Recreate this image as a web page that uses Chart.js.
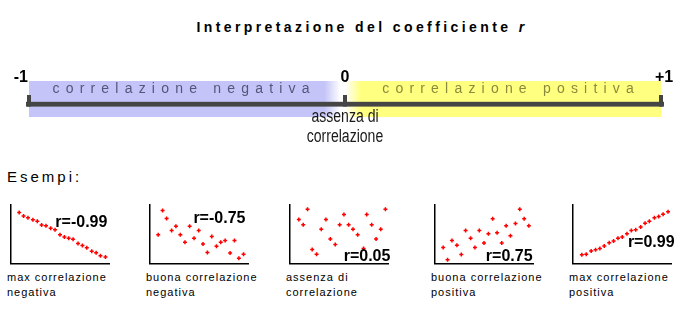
<!DOCTYPE html>
<html>
<head>
<meta charset="utf-8">
<script src="https://cdn.jsdelivr.net/npm/chart.js"></script>
<style>
  body { margin: 0; background: #fff; font-family: Arial, "Liberation Sans", sans-serif; }
  #wrap { position: relative; width: 693px; height: 323px; overflow: hidden; }
  .abs { position: absolute; }
  #title { left: 0; top: 20px; width: 724px; text-align: center; font-weight: bold; font-size: 14px; line-height: 14px; letter-spacing: 3.4px; color: #000; }
  #esempi { left: 7px; top: 169px; font-size: 15px; line-height: 15px; letter-spacing: 3px; color: #000; }
  .cap { top: 270px; font-size: 11px; line-height: 15px; letter-spacing: 1px; color: #000; white-space: nowrap; }
</style>
</head>
<body>
<div id="wrap">
  <div id="title" class="abs">Interpretazione del coefficiente <i>r</i></div>
  <canvas id="scale" class="abs" style="left:0;top:60px" width="693" height="90"></canvas>
  <div id="esempi" class="abs">Esempi:</div>
</div>
<script>
// number line
var rangeValues = [-1, 0, 1];
var rangeLabels = ['-1', '0', '+1'];
var bandNames = ['correlazione negativa', 'correlazione positiva'];
var noneCaption = ['assenza di', 'correlazione'];

// examples: x / y
var maxNegX = [9.3, 14, 18.7, 24, 28.7, 33.3, 38, 43, 47.7, 53, 57.7, 62.3, 67, 72.3, 77, 81.7, 87, 91.7, 96.3, 101.7];
var maxNegY = [57, 53, 51.3, 49, 47.3, 43, 42.3, 39.3, 37.7, 32.3, 29.7, 28.3, 27, 22.3, 20, 17.7, 13.7, 12, 8.7, 7.3];
var goodNegX = [9.3, 14, 18.3, 23.7, 28.3, 33, 38, 43, 47.7, 52.7, 57.3, 62, 66.7, 71.7, 76.3, 81, 86.3, 91, 95.7, 100.7];
var goodNegY = [32.3, 59.3, 50.3, 37, 41.7, 32.3, 23.7, 41.7, 28.3, 37, 21.7, 12.3, 30.3, 19.3, 23.7, 25.7, 11.7, 25.7, 6, 10.3];
var noneX = [10, 14.7, 19.3, 24.3, 29, 34, 39, 43.7, 49, 53.7, 58.3, 63.3, 68, 73, 79.3, 82.7, 88, 92.7, 97.7, 102.7];
var noneY = [49.3, 43.3, 60.7, 15.7, 10.3, 38.3, 49.3, 27.3, 21.3, 43.3, 54.7, 43.3, 38.3, 32.3, 16.7, 54.7, 43.3, 27.3, 38.3, 60.7];
var goodPosX = [9.3, 14, 18.7, 24, 28.7, 33.3, 38.7, 43.3, 48, 53, 57.7, 62.3, 67, 72, 76.7, 81.3, 86.7, 91.3, 96, 101];
var goodPosY = [18, 4.3, 25.7, 20.3, 10, 37, 28.3, 18, 37, 23, 33.3, 50, 34.3, 23, 42.3, 31, 44.7, 60.7, 50, 42.3];
var maxPosX = [10, 14.7, 20, 24.7, 29.3, 34, 39.3, 44, 48.7, 53.3, 58.3, 63, 67.7, 73, 77.7, 82.3, 87.7, 92.3, 97, 102.3];
var maxPosY = [9.7, 10.3, 14, 15.3, 16.7, 19.7, 23.3, 25.3, 28.3, 29.7, 33.3, 37, 37.7, 40.7, 45, 47.3, 51.3, 52.7, 55, 58];
var rLabels = ['r=-0.99', 'r=-0.75', 'r=0.05', 'r=0.75', 'r=0.99'];
var captions = [
  ['max correlazione', 'negativa'],
  ['buona correlazione', 'negativa'],
  ['assenza di', 'correlazione'],
  ['buona correlazione', 'positiva'],
  ['max correlazione', 'positiva']
];

var BLUE = 'rgb(196,196,248)';
var YELLOW = 'rgb(255,255,128)';

function bandFill(color, clear, solidAt, clearAt) {
  return function (ctx) {
    var chart = ctx.chart;
    if (!chart.chartArea) return color;
    var xs = chart.scales.x;
    var a = xs.getPixelForValue(solidAt), b = xs.getPixelForValue(clearAt);
    var g = chart.ctx.createLinearGradient(a, 0, b, 0);
    g.addColorStop(0, color);
    g.addColorStop(1, clear);
    return g;
  };
}

function spacedText(c, text, cx, y, spacing) {
  var total = 0;
  for (var i = 0; i < text.length; i++) total += c.measureText(text[i]).width;
  total += spacing * (text.length - 1);
  var x = cx - total / 2;
  c.textAlign = 'left';
  for (var j = 0; j < text.length; j++) {
    c.fillText(text[j], x, y);
    x += c.measureText(text[j]).width + spacing;
  }
}

var lineDecor = {
  id: 'lineDecor',
  afterDatasetsDraw: function (chart) {
    var c = chart.ctx, xs = chart.scales.x;
    var p = rangeValues.map(function (v) { return xs.getPixelForValue(v); });
    c.save();
    // band titles
    c.font = '14px Arial';
    c.fillStyle = '#55557a';
    spacedText(c, bandNames[0], (p[0] + p[1]) / 2 - 6, 33.3, 6.2);
    c.fillStyle = '#8a8a3c';
    spacedText(c, bandNames[1], (p[1] + p[2]) / 2 + 5, 33.3, 6.2);
    // bracket
    c.fillStyle = '#454545';
    c.fillRect(p[0] - 3, 41.8, p[2] - p[0] + 6, 4.8);
    p.forEach(function (x) { c.fillRect(x - 2, 35, 4, 11.6); });
    // end labels
    c.fillStyle = '#000';
    c.font = 'bold 16px Arial';
    c.textAlign = 'right';
    c.fillText(rangeLabels[0], p[0] - 1, 21.8);
    c.textAlign = 'center';
    c.fillText(rangeLabels[1], p[1], 21.8);
    c.fillText(rangeLabels[2], p[2] + 3, 21.8);
    // "assenza di correlazione"
    c.fillStyle = '#1a1a1a';
    c.font = '18px Arial';
    c.translate(p[1], 0);
    c.scale(0.78, 1);
    c.fillText(noneCaption[0], 0, 61.7);
    c.fillText(noneCaption[1], 0, 81.7);
    c.restore();
  }
};

new Chart(document.getElementById('scale').getContext('2d'), {
  type: 'bar',
  data: {
    labels: [''],
    datasets: [
      { data: [[-1, -0.015]], backgroundColor: bandFill(BLUE, 'rgba(196,196,248,0)', -0.065, -0.015), grouped: false, barPercentage: 1, categoryPercentage: 1, borderWidth: 0 },
      { data: [[0, 1]], backgroundColor: bandFill(YELLOW, 'rgba(255,255,128,0)', 0.05, 0), grouped: false, barPercentage: 1, categoryPercentage: 1, borderWidth: 0 }
    ]
  },
  options: {
    indexAxis: 'y',
    responsive: false,
    animation: false,
    devicePixelRatio: 1,
    layout: { padding: { left: 29, right: 32, top: 21, bottom: 33 } },
    plugins: { legend: { display: false }, tooltip: { enabled: false } },
    scales: {
      x: { type: 'linear', min: -1, max: 1, display: false },
      y: { display: false }
    }
  },
  plugins: [lineDecor]
});

// small example plots
var panelLeft = [7, 146, 286, 431, 569];
var labelAt = [[48, 40.7], [47, 45.7], [58, 2.3], [55, 2.3], [59.3, 19]];
var panels = [[maxNegX, maxNegY], [goodNegX, goodNegY], [noneX, noneY], [goodPosX, goodPosY], [maxPosX, maxPosY]];

var rLabel = {
  id: 'rLabel',
  afterDatasetsDraw: function (chart, args, opts) {
    var c = chart.ctx;
    c.save();
    c.font = 'bold 16px Arial';
    c.fillStyle = '#000';
    c.textAlign = 'left';
    c.fillText(opts.text, chart.scales.x.getPixelForValue(opts.at[0]), chart.scales.y.getPixelForValue(opts.at[1]));
    c.restore();
  }
};

function axisOpts(max) {
  return {
    type: 'linear', min: 0, max: max,
    ticks: { display: false },
    grid: { display: false, drawTicks: false },
    border: { display: true, color: '#000', width: 1.5 }
  };
}

var wrap = document.getElementById('wrap');
panels.forEach(function (pp, i) {
  var cv = document.createElement('canvas');
  cv.className = 'abs';
  cv.width = 110;
  cv.height = 70;
  cv.style.left = (panelLeft[i] - 2) + 'px';
  cv.style.top = '199px';
  wrap.appendChild(cv);

  var cap = document.createElement('div');
  cap.className = 'abs cap';
  cap.style.left = panelLeft[i] + 'px';
  cap.innerHTML = captions[i].join('<br>');
  wrap.appendChild(cap);

  new Chart(cv.getContext('2d'), {
    type: 'scatter',
    data: {
      datasets: [{
        data: pp[0].map(function (x, k) { return { x: x, y: pp[1][k] }; }),
        pointStyle: 'cross',
        pointRadius: 2,
        borderWidth: 1.5,
        borderColor: '#ff0000',
        backgroundColor: '#ff0000'
      }]
    },
    options: {
      responsive: false,
      animation: false,
      devicePixelRatio: 1,
      layout: { padding: 2 },
      plugins: { legend: { display: false }, tooltip: { enabled: false }, rLabel: { text: rLabels[i], at: labelAt[i] } },
      scales: { x: axisOpts(106), y: axisOpts(66) }
    },
    plugins: [rLabel]
  });
});
</script>
</body>
</html>
